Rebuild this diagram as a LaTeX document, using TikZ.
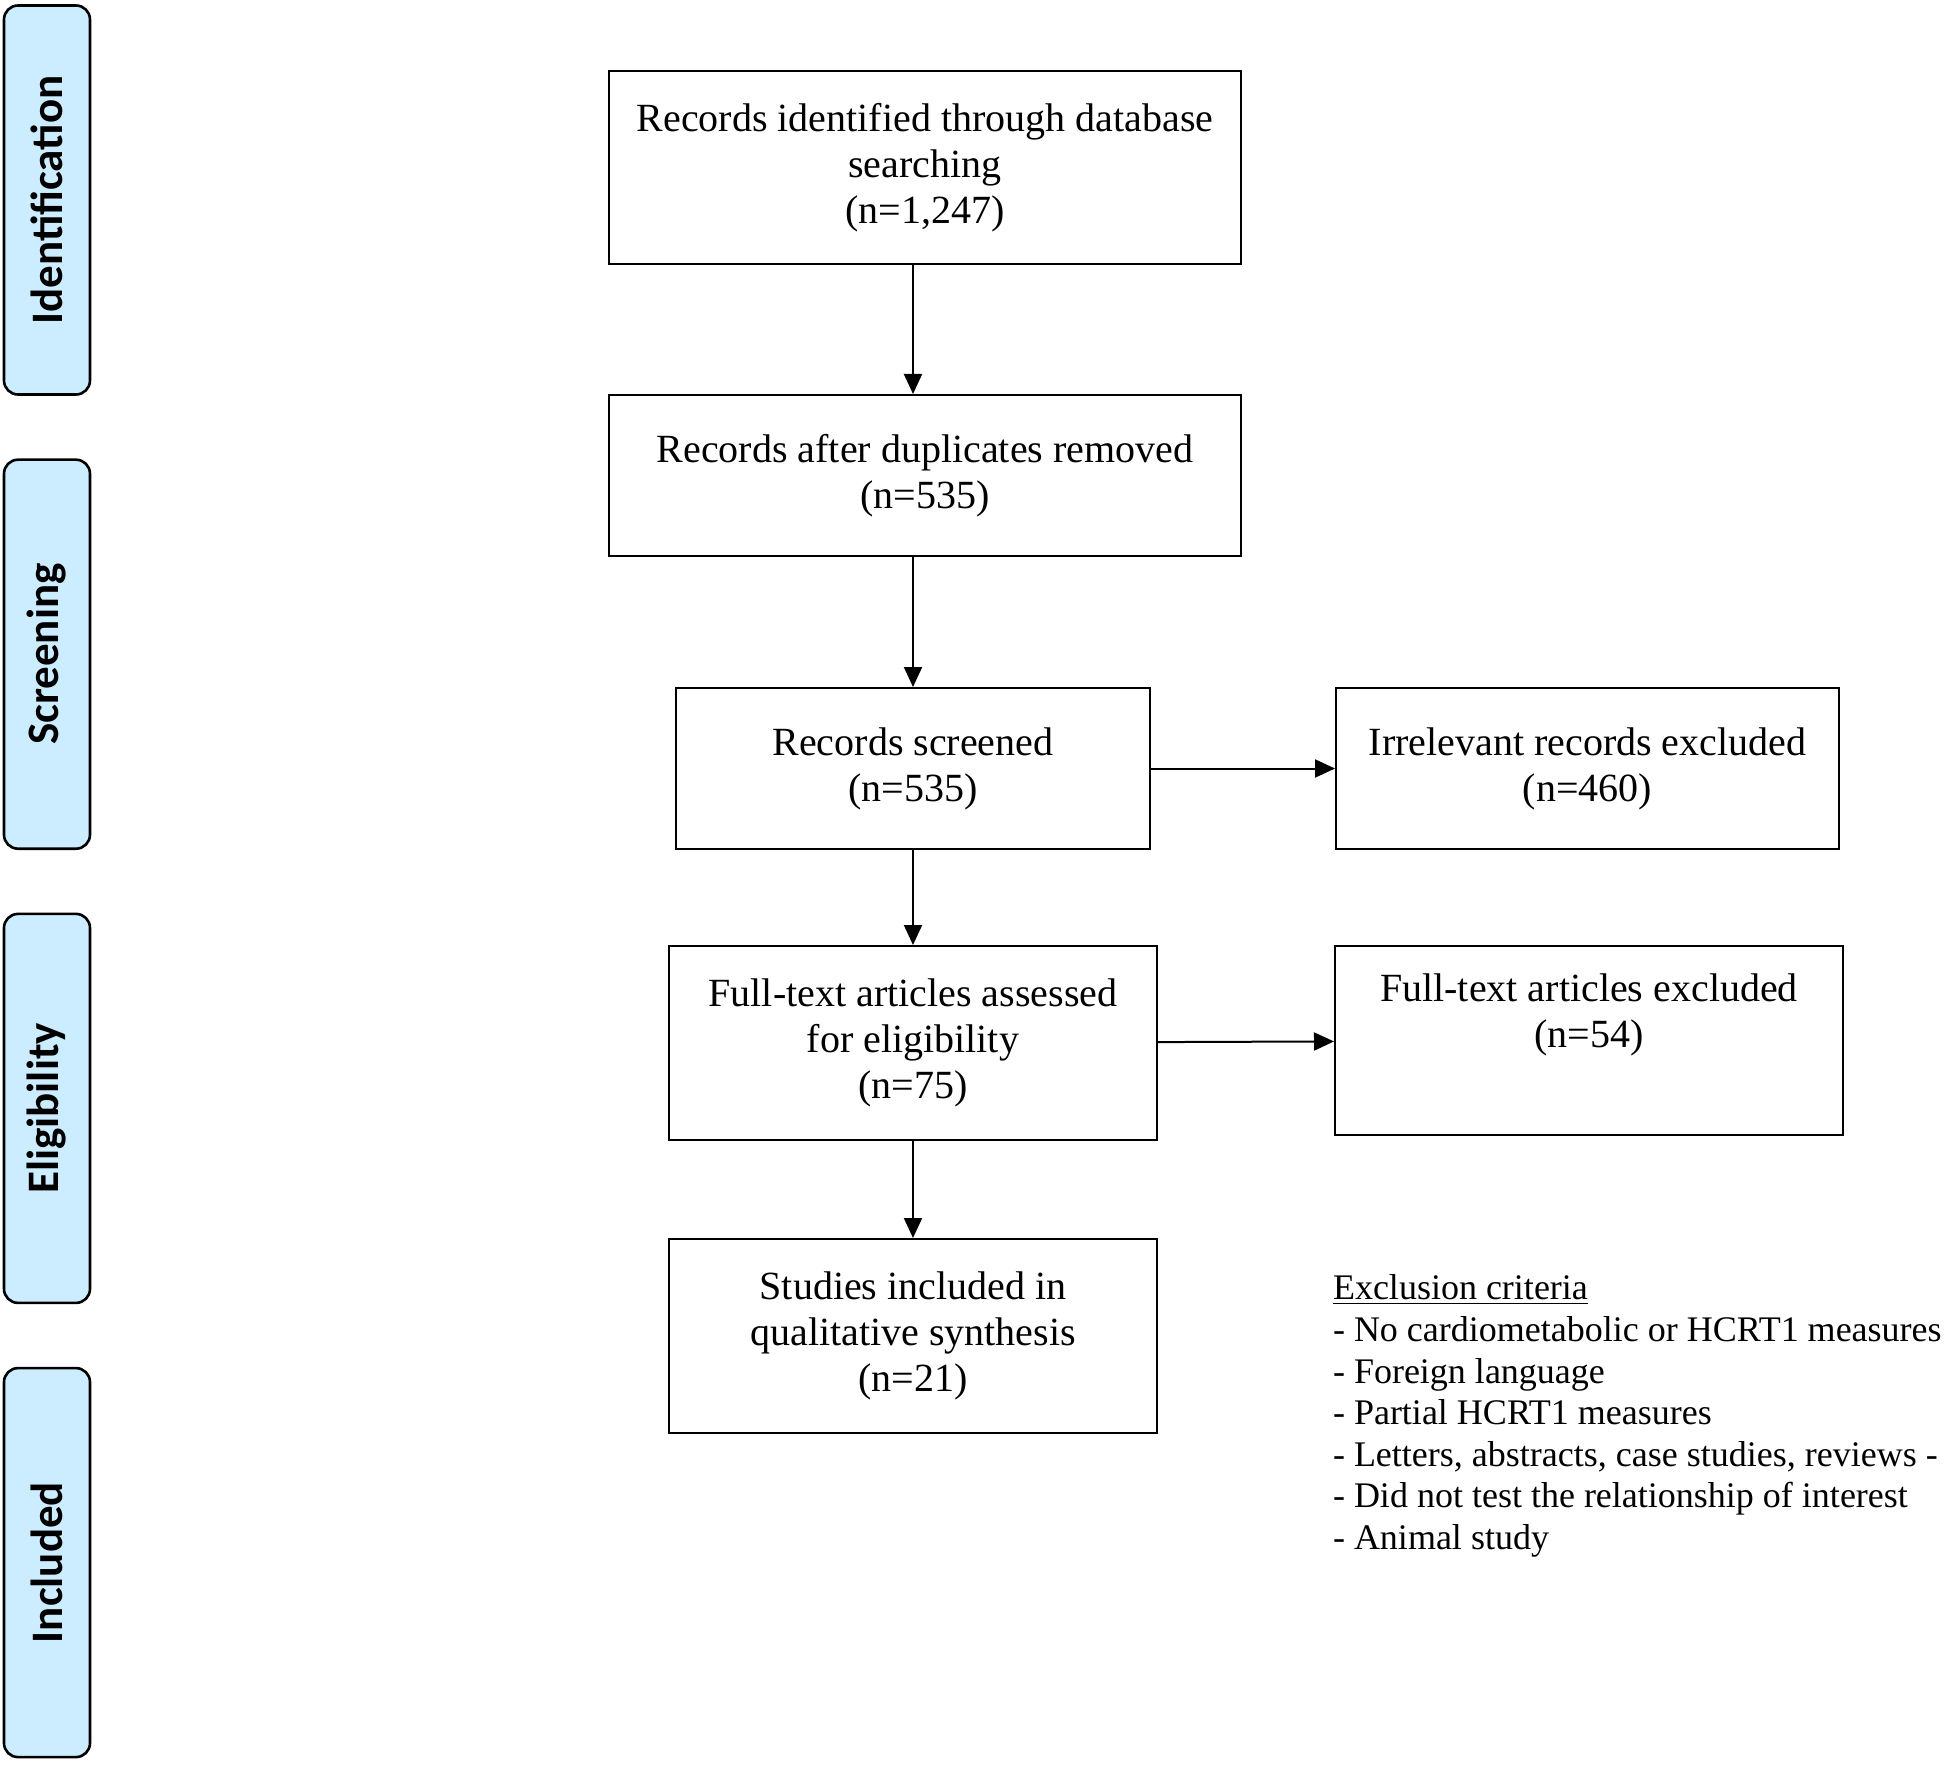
\documentclass[tikz,border=0pt]{standalone}
\usepackage{fontspec}
\setmainfont{Liberation Serif}
\newfontfamily\stagefont{Carlito}
\usetikzlibrary{positioning, arrows.meta}
\definecolor{stageblue}{RGB}{204,236,255}

\begin{document}
\begin{tikzpicture}[line width=1pt, on grid, >={Triangle[length=10pt,width=9pt]},
		box/.style={draw, align=center, inner sep=0pt, font=\fontsize{20}{23}\selectfont},
		stage/.style={draw, line width=1.3pt, rounded corners=7pt, fill=stageblue, rotate=90,
			minimum width=194.5pt, minimum height=43pt, font=\stagefont\bfseries\fontsize{22.5}{26}\selectfont}]
			\useasboundingbox (0,0) rectangle (975pt,-882.5pt);
			% stages on the left
			\node[stage] (ident) at (23.5pt,-100pt) {Identification};
			\node[stage] (screen) [below=227.1pt of ident] {Screening};
			\node[stage] (elig) [below=227.1pt of screen] {Eligibility};
			\node[stage] (incl) [below=227.1pt of elig] {Included};
			% flow boxes
			\node[box, minimum width=316pt, minimum height=96.5pt] (found) at (462.5pt,-83.75pt)
				{Records identified through database\\searching\\(n=1,247)};
			\node[box, minimum width=316pt, minimum height=80.5pt] (dedup) [below=154pt of found]
				{Records after duplicates removed\\(n=535)};
			\node[box, minimum width=237pt, minimum height=80.5pt] (screened) [below left=146.5pt and 6pt of dedup]
				{Records screened\\(n=535)};
			\node[box, minimum width=251.5pt, minimum height=80.5pt] (irrel) [right=337.25pt of screened]
				{Irrelevant records excluded\\(n=460)};
			\node[box, minimum width=244pt, minimum height=97pt] (fulltext) [below=137.25pt of screened]
				{Full-text articles assessed\\for eligibility\\(n=75)};
			\node[box, minimum width=254pt, minimum height=94.5pt] (ftexcl) [above right=1.25pt and 338pt of fulltext]
				{Full-text articles excluded\\(n=54)\\\strut};
			\node[box, minimum width=244pt, minimum height=97pt] (incstud) [below=146.5pt of fulltext]
				{Studies included in\\qualitative synthesis\\(n=21)};
			\node[align=left, inner sep=0pt, anchor=north west, font=\fontsize{18}{20.8}\selectfont] (crit)
				at ([xshift=-1pt,yshift=-69pt]ftexcl.south west)
				{\underline{Exclusion criteria}\\- No cardiometabolic or HCRT1 measures\\- Foreign language\\- Partial HCRT1 measures\\- Letters, abstracts, case studies, reviews -\\- Did not test the relationship of interest\\- Animal study};
			\path[->]
				(screened |- found.south) edge (screened |- dedup.north)
				(screened |- dedup.south) edge (screened.north)
				(screened) edge (irrel)
				(screened) edge (fulltext)
				(fulltext) edge (ftexcl)
				(fulltext) edge (incstud);
		\end{tikzpicture}
\end{document}
